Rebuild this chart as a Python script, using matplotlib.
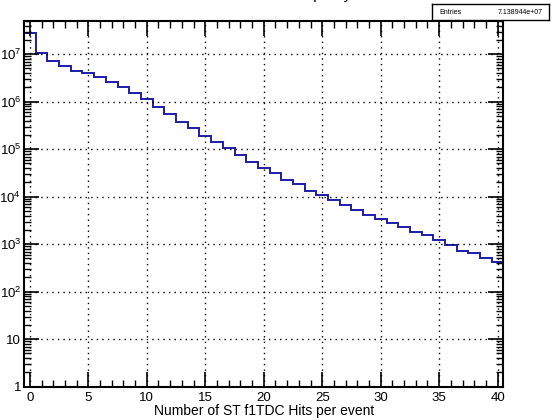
import numpy as np
import matplotlib.pyplot as plt
from matplotlib.ticker import LogLocator, FuncFormatter, MultipleLocator, NullFormatter

plt.rcParams['font.family'] = ['Liberation Sans', 'DejaVu Sans']

# hits per event (bin centres) and counts
hits = list(range(41))
counts = [
    2.76e7, 1.05e7, 7.2e6, 5.7e6, 4.5e6, 3.96e6, 3.36e6, 2.63e6, 2.07e6, 1.55e6,
    1.12e6, 7.6e5, 5.4e5, 3.8e5, 2.75e5, 1.92e5, 1.4e5, 1.05e5, 7.5e4, 5.5e4,
    3.96e4, 3.2e4, 2.3e4, 1.82e4, 1.34e4, 1.09e4, 8.5e3, 6.7e3, 5.25e3, 4.1e3,
    3.4e3, 2.84e3, 2.27e3, 1.78e3, 1.56e3, 1.22e3, 9.6e2, 7.2e2, 6.4e2, 5.2e2,
    4.2e2,
]
entries = "7.138944e+07"

edges = np.arange(len(hits) + 1) - 0.5

fig = plt.figure(figsize=(5.52, 4.2), dpi=100)
ax = fig.add_axes([0.0435, 0.0793, 0.8686, 0.8707])

ax.stairs(counts, edges, color='#1c1ca8', linewidth=1.4)

ax.set_xlim(-0.5, 40.5)
ax.set_yscale('log')
ax.set_ylim(1, 5e7)

ax.xaxis.set_major_locator(MultipleLocator(5))
ax.xaxis.set_minor_locator(MultipleLocator(1))
ax.yaxis.set_major_locator(LogLocator(base=10, numticks=20))
ax.yaxis.set_minor_locator(LogLocator(base=10, subs=np.arange(2, 10), numticks=20))
ax.yaxis.set_minor_formatter(NullFormatter())


def ylab(v, pos):
    n = int(round(np.log10(v)))
    if n == 0:
        return '1'
    if n == 1:
        return '10'
    return r'$\mathregular{10^{%d}}$' % n


ax.yaxis.set_major_formatter(FuncFormatter(ylab))

ax.tick_params(which='both', direction='in', top=True, right=True, colors='black',
               labelsize=9.5)
ax.tick_params(which='major', length=11, width=1.2)
ax.tick_params(which='minor', length=5, width=1.0)
ax.tick_params(axis='x', pad=4)
ax.tick_params(axis='y', pad=2)
for s in ax.spines.values():
    s.set_linewidth(1.5)

ax.grid(True, which='major', color='black', linestyle=(0, (1, 3)), linewidth=1.0)

ax.set_xlabel('Number of ST f1TDC Hits per event', fontsize=10, labelpad=0)

# title, mostly cut off by the top of the canvas
fig.text(0.487, 1.002, 'ST f1TDC Hit Multiplicity', ha='center', va='baseline',
         fontsize=11)

# stats box
box = fig.add_axes([0.7826, 0.952, 0.2117, 0.038])
box.set_xticks([])
box.set_yticks([])
for s in box.spines.values():
    s.set_linewidth(1.0)
box.text(0.06, 0.45, 'Entries', fontsize=5, va='center', ha='left', transform=box.transAxes)
box.text(0.95, 0.45, entries, fontsize=5, va='center', ha='right', transform=box.transAxes)

fig.savefig('out.png', dpi=100)
